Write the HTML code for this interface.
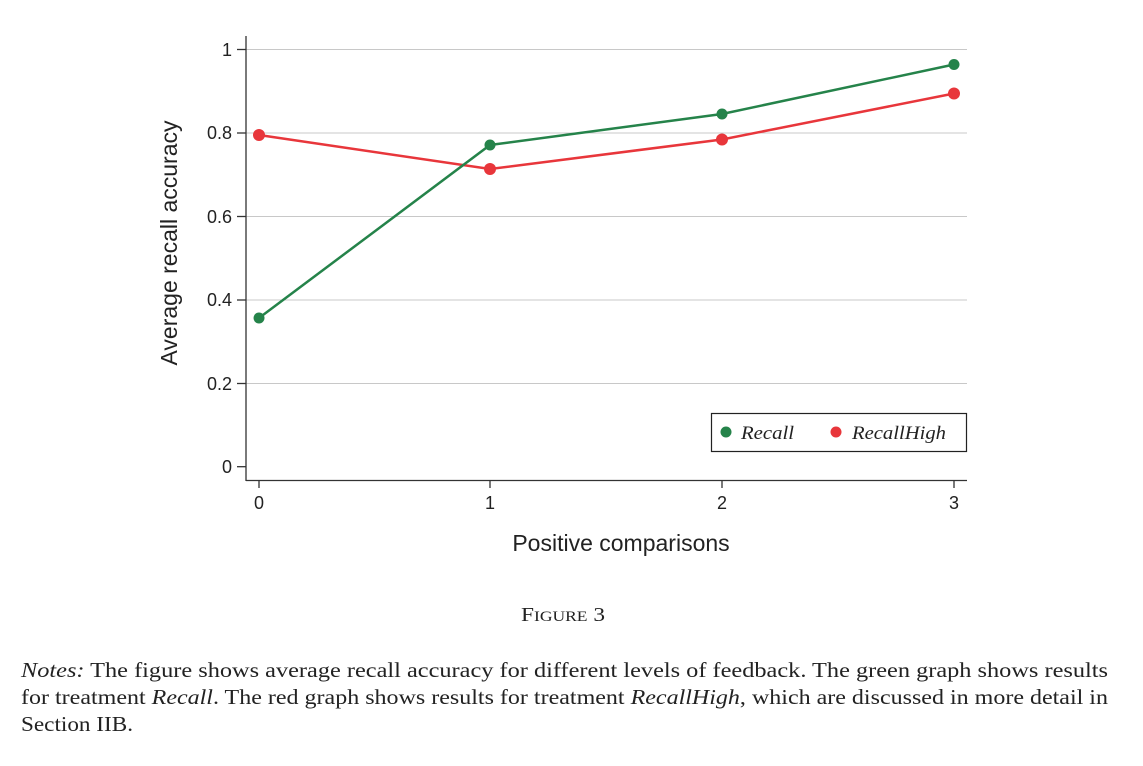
<!DOCTYPE html>
<html><head><style>
body{margin:0;background:#fff;}
</style></head><body>
<svg width="1143" height="766" xmlns="http://www.w3.org/2000/svg" style="display:block">
<g stroke="#c8c8c8" stroke-width="1">
<line x1="246" y1="49.5" x2="967" y2="49.5"/>
<line x1="246" y1="133" x2="967" y2="133"/>
<line x1="246" y1="216.5" x2="967" y2="216.5"/>
<line x1="246" y1="300" x2="967" y2="300"/>
<line x1="246" y1="383.5" x2="967" y2="383.5"/>
</g>
<g stroke="#333" stroke-width="1.3" fill="none">
<line x1="246" y1="36" x2="246" y2="481"/>
<line x1="246" y1="480.5" x2="967" y2="480.5"/>
<line x1="237" y1="49.5" x2="246" y2="49.5"/>
<line x1="237" y1="133" x2="246" y2="133"/>
<line x1="237" y1="216.5" x2="246" y2="216.5"/>
<line x1="237" y1="300" x2="246" y2="300"/>
<line x1="237" y1="383.5" x2="246" y2="383.5"/>
<line x1="237" y1="466.7" x2="246" y2="466.7"/>
<line x1="259" y1="480" x2="259" y2="488"/>
<line x1="490" y1="480" x2="490" y2="488"/>
<line x1="722" y1="480" x2="722" y2="488"/>
<line x1="954" y1="480" x2="954" y2="488"/>
</g>
<g font-family="Liberation Sans, sans-serif" font-size="18" fill="#222" text-anchor="end">
<text x="232" y="56">1</text>
<text x="232" y="139">0.8</text>
<text x="232" y="223">0.6</text>
<text x="232" y="306">0.4</text>
<text x="232" y="390">0.2</text>
<text x="232" y="473">0</text>
</g>
<g font-family="Liberation Sans, sans-serif" font-size="18" fill="#222" text-anchor="middle">
<text x="259" y="509">0</text>
<text x="490" y="509">1</text>
<text x="722" y="509">2</text>
<text x="954" y="509">3</text>
<text x="621" y="551" font-size="23">Positive comparisons</text>
<text transform="translate(177,243) rotate(-90)" font-size="23">Average recall accuracy</text>
</g>
<polyline points="259,135 490,169 722,139.5 954,93.5" fill="none" stroke="#e8363b" stroke-width="2.5"/>
<polyline points="259,318 490,145 722,114 954,64.5" fill="none" stroke="#25834a" stroke-width="2.5"/>
<g fill="#e8363b">
<circle cx="259" cy="135" r="6"/><circle cx="490" cy="169" r="6"/><circle cx="722" cy="139.5" r="6"/><circle cx="954" cy="93.5" r="6"/>
</g>
<g fill="#25834a">
<circle cx="259" cy="318" r="5.5"/><circle cx="490" cy="145" r="5.5"/><circle cx="722" cy="114" r="5.5"/><circle cx="954" cy="64.5" r="5.5"/>
</g>
<rect x="711.5" y="413.5" width="255" height="38" fill="#fff" stroke="#222" stroke-width="1.2"/>
<circle cx="726" cy="432" r="5.5" fill="#25834a"/>
<circle cx="836" cy="432" r="5.5" fill="#e8363b"/>
<g font-family="Liberation Serif, serif" font-style="italic" font-size="19" fill="#222">
<text x="741" y="439" textLength="53" lengthAdjust="spacingAndGlyphs">Recall</text>
<text x="852" y="439" textLength="94" lengthAdjust="spacingAndGlyphs">RecallHigh</text>
</g>
<g font-family="Liberation Serif, serif" fill="#222">
<text x="521" y="621" font-size="20" textLength="84" lengthAdjust="spacingAndGlyphs">F<tspan font-size="15">IGURE</tspan> 3</text>
<g font-size="21">
<text x="21" y="677" textLength="1087" lengthAdjust="spacingAndGlyphs"><tspan font-style="italic">Notes:</tspan> The figure shows average recall accuracy for different levels of feedback. The green graph shows results</text>
<text x="21" y="704" textLength="1087" lengthAdjust="spacingAndGlyphs">for treatment <tspan font-style="italic">Recall</tspan>. The red graph shows results for treatment <tspan font-style="italic">RecallHigh</tspan>, which are discussed in more detail in</text>
<text x="21" y="731" textLength="112" lengthAdjust="spacingAndGlyphs">Section IIB.</text>
</g>
</g>
</svg>
</body></html>
